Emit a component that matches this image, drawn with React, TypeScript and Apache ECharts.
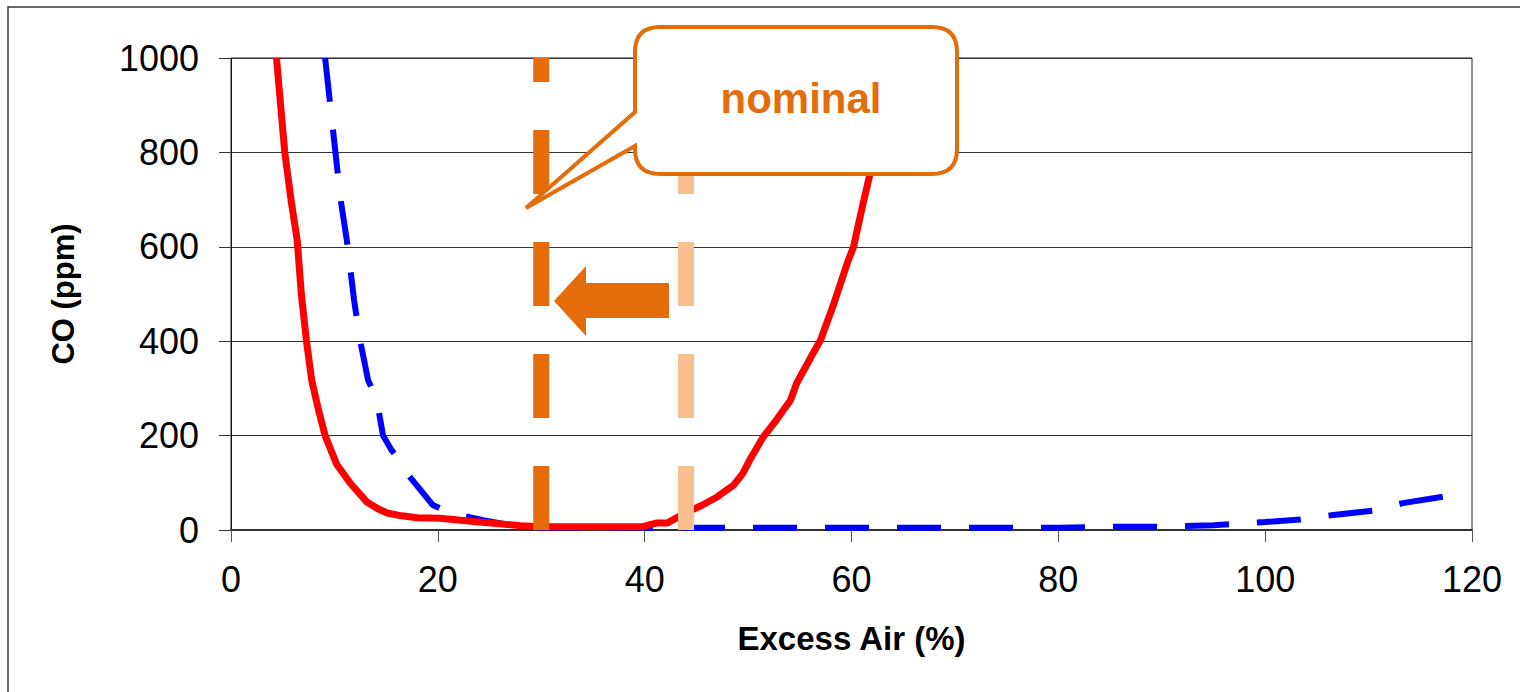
import React, { useEffect, useRef } from "react";
import * as echarts from "echarts";

const xTicks = [0, 20, 40, 60, 80, 100, 120];
const yTicks = [0, 200, 400, 600, 800, 1000];

const redCurve: [number, number][] = [
  [4.4, 1000], [5.2, 800], [5.8, 700], [6.4, 614], [6.8, 500], [7.3, 400], [7.8, 318],
  [8.4, 260], [9.1, 200], [10.2, 140], [11.5, 100], [13.1, 60], [14.2, 45], [15.1, 36],
  [16.5, 30], [18, 26], [20.2, 25], [22, 21], [24, 17], [26, 13], [28, 9], [30, 7],
  [35, 7], [39.8, 7], [41.2, 15], [42.2, 15], [44.1, 38], [45.5, 52], [47, 70],
  [48.6, 95], [49.5, 120], [50.2, 150], [51.4, 195], [52.8, 235], [54.1, 275],
  [54.7, 311], [56.3, 375], [57, 402], [58.3, 480], [59.6, 566], [60.2, 600],
  [61, 680], [61.8, 756], [63, 870], [64.2, 1000],
];

const blueCurve: [number, number][] = [
  [9.1, 1000], [10.1, 800], [10.6, 700], [11.2, 614], [11.9, 487], [12.5, 400],
  [13.25, 318], [14.1, 275], [14.7, 200], [15.5, 170], [16.3, 148], [17, 120],
  [18.1, 91], [19.5, 53], [21.2, 36], [24.4, 21], [27.6, 8], [30, 5], [40, 5],
  [50, 5], [60, 5], [70, 5], [80, 5], [85, 7], [90, 7], [95, 10], [100, 17],
  [103.4, 22], [106.6, 32], [110.8, 42], [113.3, 57], [117.9, 73],
];

const newLimit: [number, number][] = [[30, 0], [30, 1000]];
const nominalLimit: [number, number][] = [[44, 0], [44, 1000]];

const calloutText = "nominal";
const xName = "Excess Air (%)";
const yName = "CO (ppm)";

const ORANGE = "#E46C0A";
const LIGHT_ORANGE = "#FABF8F";
const FONT = "'Liberation Sans', Arial, sans-serif";

const calloutPath =
  "M 660 27 L 932 27 Q 957 27 957 52 L 957 149 Q 957 174 932 174 L 660 174 " +
  "Q 635 174 635 149 L 635 146 L 526 208 L 635 112 L 635 52 Q 635 27 660 27 Z";

echarts.graphic.registerShape("callout", echarts.graphic.extendPath(calloutPath, {}) as any);

export default function App() {
  const ref = useRef<HTMLDivElement>(null);

  useEffect(() => {
    if (!ref.current) return;
    const chart = echarts.init(ref.current, null, { renderer: "svg" });
    chart.setOption({
      animation: false,
      backgroundColor: "#ffffff",
      grid: {
        left: 231,
        right: 48,
        top: 58,
        bottom: 162,
        show: true,
        borderColor: "#222",
        borderWidth: 1,
        backgroundColor: "transparent",
      },
      xAxis: {
        type: "value",
        min: xTicks[0],
        max: xTicks[xTicks.length - 1],
        interval: 20,
        name: xName,
        nameLocation: "middle",
        nameGap: 92,
        nameTextStyle: { fontFamily: FONT, fontWeight: "bold", fontSize: 33, color: "#000" },
        axisLine: { show: true, lineStyle: { color: "#333", width: 2 } },
        axisTick: { show: true, length: 12, lineStyle: { color: "#555", width: 1 } },
        axisLabel: { fontFamily: FONT, fontSize: 36, color: "#000", margin: 31 },
        splitLine: { show: false },
      },
      yAxis: {
        type: "value",
        min: yTicks[0],
        max: yTicks[yTicks.length - 1],
        interval: 200,
        name: yName,
        nameLocation: "middle",
        nameGap: 152,
        nameRotate: 90,
        nameTextStyle: { fontFamily: FONT, fontWeight: "bold", fontSize: 31, color: "#000" },
        axisLine: { show: true, lineStyle: { color: "#111", width: 1 } },
        axisTick: { show: true, length: 12, lineStyle: { color: "#333", width: 1 } },
        axisLabel: {
          fontFamily: FONT,
          fontSize: 36,
          color: "#000",
          margin: 32,
          formatter: (v: number) => String(v),
        },
        splitLine: { show: true, lineStyle: { color: "#333", width: 1 } },
      },
      series: [
        {
          type: "line",
          data: blueCurve,
          showSymbol: false,
          lineStyle: { color: "#0000FF", width: 6, type: [44, 28] },
          z: 3,
        },
        {
          type: "line",
          data: redCurve,
          showSymbol: false,
          lineStyle: { color: "#FF0000", width: 7 },
          z: 4,
        },
        {
          type: "line",
          data: newLimit,
          showSymbol: false,
          lineStyle: { color: ORANGE, width: 16, type: [64, 48], cap: "butt" },
          z: 5,
        },
        {
          type: "line",
          data: nominalLimit,
          showSymbol: false,
          lineStyle: { color: LIGHT_ORANGE, width: 16, type: [64, 48], cap: "butt" },
          z: 5,
        },
      ],
      graphic: [
        {
          type: "rect",
          z: 0,
          silent: true,
          shape: { x: 8, y: 7, width: 1600, height: 800 },
          style: { fill: "none", stroke: "#3a3a3a", lineWidth: 1.5 },
        },
        {
          type: "polygon",
          z: 100,
          shape: {
            points: [
              [554, 301], [586, 266], [586, 283], [669, 283], [669, 318], [586, 318], [586, 336],
            ],
          },
          style: { fill: ORANGE },
        },
        {
          type: "callout",
          z: 100,
          x: 0,
          y: 0,
          shape: {},
          style: { fill: "#fff", stroke: ORANGE, lineWidth: 4, lineJoin: "miter" },
        },
        {
          type: "text",
          z: 101,
          x: 801,
          y: 98,
          style: {
            text: calloutText,
            fontFamily: FONT,
            fontWeight: "bold",
            fontSize: 42,
            fill: ORANGE,
            align: "center",
            verticalAlign: "middle",
          },
        },
      ],
    });
    return () => chart.dispose();
  }, []);

  return (
    <div
      ref={ref}
      style={{ position: "fixed", left: 0, top: 0, width: 1520, height: 692, background: "#fff" }}
    />
  );
}
